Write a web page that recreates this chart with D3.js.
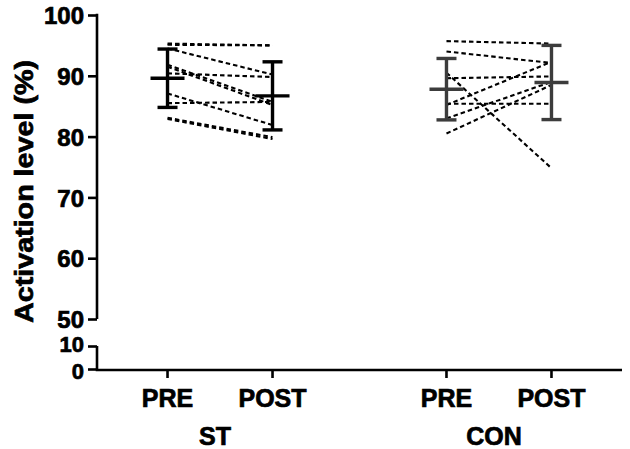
<!DOCTYPE html>
<html><head><meta charset="utf-8">
<script src="https://cdn.jsdelivr.net/npm/d3@7"></script>
<style>body{margin:0;background:#fff}svg{display:block}text{font-family:"Liberation Sans",Arial,sans-serif;font-weight:bold;fill:#000;stroke:#000;stroke-width:0.7px}</style>
</head><body><div id="c"></div>
<script>
// ---- data ----
const groups = ["ST", "CON"];
const times = ["PRE", "POST"];
const upperTicks = [50, 60, 70, 80, 90, 100];
const lowerTicks = [0, 10];
const ST_PRE  = [95.3, 95.1, 94.5, 91.8, 91.5, 90.4, 87.1, 85.5, 83.1, 82.9];
const ST_POST = [95.0, 95.0, 90.2, 85.7, 85.2, 89.8, 81.9, 85.7, 79.9, 79.6];
const CON_PRE  = [95.7, 94.0, 89.6, 90.5, 85.2, 83.0, 80.5, 85.4];
const CON_POST = [95.3, 92.1, 89.9, 74.8, 92.3, 89.0, 88.5, 85.4];
const means = [89.6, 86.7, 87.8, 88.9];   // ST-PRE, ST-POST, CON-PRE, CON-POST
const sds   = [4.8, 5.6, 5.05, 6.1];
const yTitle = "Activation level (%)";

// ---- layout ----
const W = 630, H = 449;
const axisX = 97, axisY = 370;
const svg = d3.select("#c").append("svg").attr("width", W).attr("height", H);

const yUp = d3.scaleLinear().domain([50, 100]).range([319, 15]);
const yLo = d3.scaleLinear().domain([0, 10]).range([369, 346]);
const xG = d3.scalePoint().domain(groups).range([axisX, 622]).padding(0.441);
const xT = d3.scalePoint().domain(times).range([-52.5, 52.5]);
const xPos = (g, t) => xG(g) + xT(t);

// y axes (broken)
const ayU = svg.append("g").attr("transform", `translate(${axisX},0)`)
  .call(d3.axisLeft(yUp).tickValues(upperTicks).tickSize(9).tickPadding(4));
const ayL = svg.append("g").attr("transform", `translate(${axisX},0)`)
  .call(d3.axisLeft(yLo).tickValues(lowerTicks).tickSize(9).tickPadding(4));
[ayU, ayL].forEach(a => {
  a.select(".domain").remove();
  a.selectAll(".tick line").attr("stroke", "#000").attr("stroke-width", 2.6);
  a.selectAll(".tick text").style("font-size", "24px").attr("dy", "0.36em");
});
// lower labels sit tightly as in the reference
ayL.selectAll(".tick text").style("font-size", "22px").attr("dy", d => d === 10 ? "0.26em" : "0.42em");
svg.append("line").attr("x1", axisX).attr("x2", axisX).attr("y1", yUp(100) - 1.3).attr("y2", yUp(50))
  .attr("stroke", "#000").attr("stroke-width", 2.6);
svg.append("line").attr("x1", axisX).attr("x2", axisX).attr("y1", yLo(10)).attr("y2", axisY)
  .attr("stroke", "#000").attr("stroke-width", 2.6);

// x axis
svg.append("line").attr("x1", axisX - 1.3).attr("x2", 622).attr("y1", axisY).attr("y2", axisY)
  .attr("stroke", "#000").attr("stroke-width", 2.6);
groups.forEach(g => {
  times.forEach(t => {
    svg.append("line").attr("x1", xPos(g, t)).attr("x2", xPos(g, t)).attr("y1", axisY).attr("y2", axisY + 8)
      .attr("stroke", "#000").attr("stroke-width", 2.6);
    svg.append("text").attr("x", xPos(g, t)).attr("y", 406.5).attr("text-anchor", "middle")
      .style("font-size", "25px").text(t);
  });
  svg.append("text").attr("x", xG(g) - 5).attr("y", 445).attr("text-anchor", "middle")
    .style("font-size", "25px").text(g);
});

// y title
svg.append("text").attr("transform", `translate(33,${(60 + 323) / 2}) rotate(-90)`)
  .attr("text-anchor", "middle").style("font-size", "26px")
  .attr("textLength", 263).attr("lengthAdjust", "spacingAndGlyphs").text(yTitle);

// paired lines
const pairs = [
  {g: "ST", pre: ST_PRE, post: ST_POST},
  {g: "CON", pre: CON_PRE, post: CON_POST}
];
pairs.forEach(p => {
  svg.append("g").selectAll("line").data(d3.range(p.pre.length)).join("line")
    .attr("x1", xPos(p.g, "PRE")).attr("x2", xPos(p.g, "POST"))
    .attr("y1", i => yUp(p.pre[i])).attr("y2", i => yUp(p.post[i]))
    .attr("stroke", "#000").attr("stroke-width", 2.1).attr("stroke-dasharray", "4.5,3");
});

// error bars
const cells = [["ST", "PRE"], ["ST", "POST"], ["CON", "PRE"], ["CON", "POST"]];
cells.forEach(([g, t], i) => {
  const x = xPos(g, t), col = g === "ST" ? "#000" : "#3c3c3c";
  const e = svg.append("g").attr("stroke", col).attr("stroke-width", 3.4);
  e.append("line").attr("x1", x).attr("x2", x).attr("y1", yUp(means[i] + sds[i])).attr("y2", yUp(means[i] - sds[i]));
  e.append("line").attr("x1", x - 10).attr("x2", x + 10).attr("y1", yUp(means[i] + sds[i])).attr("y2", yUp(means[i] + sds[i]));
  e.append("line").attr("x1", x - 10).attr("x2", x + 10).attr("y1", yUp(means[i] - sds[i])).attr("y2", yUp(means[i] - sds[i]));
  e.append("line").attr("x1", x - 17).attr("x2", x + 17).attr("y1", yUp(means[i])).attr("y2", yUp(means[i]));
});
</script></body></html>
